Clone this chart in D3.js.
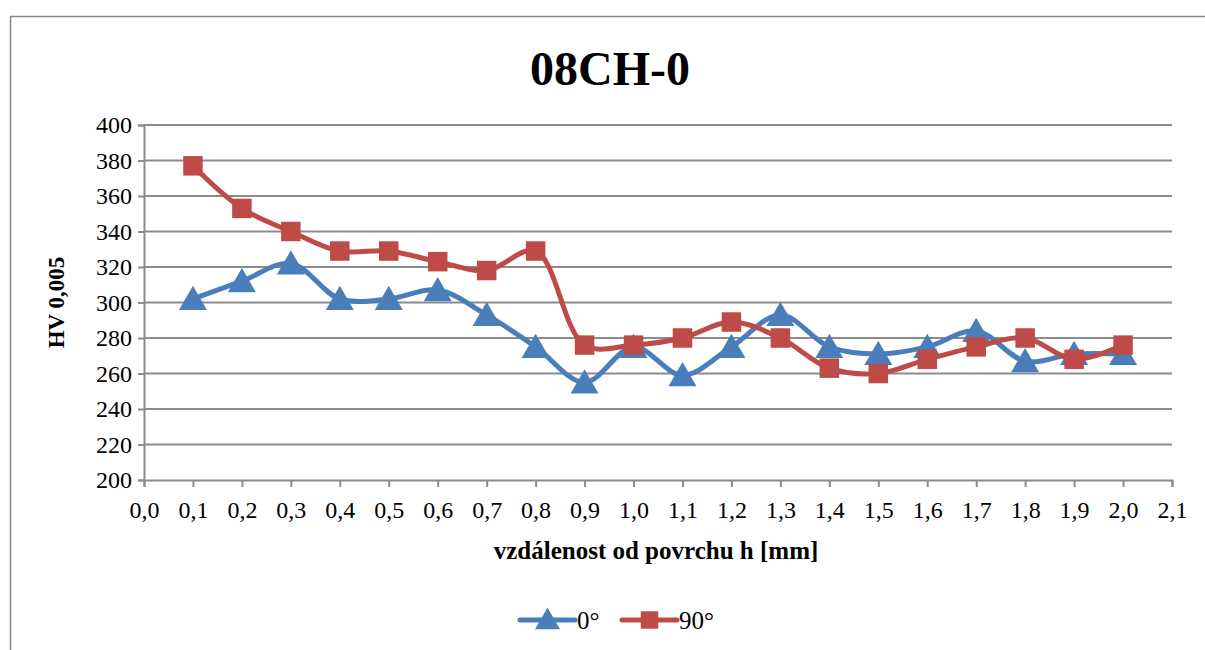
<!DOCTYPE html>
<html>
<head>
<meta charset="utf-8">
<script src="https://d3js.org/d3.v7.min.js"></script>
<style>
  body { margin: 0; background: #fff; }
  svg, svg text { font-family: "Liberation Serif", "Times New Roman", Tinos, "DejaVu Serif", serif !important; }
</style>
</head>
<body>
<div id="chart"></div>
<script>
// data
var depths = [0.1, 0.2, 0.3, 0.4, 0.5, 0.6, 0.7, 0.8, 0.9, 1.0, 1.1, 1.2, 1.3, 1.4, 1.5, 1.6, 1.7, 1.8, 1.9, 2.0];
var hv0  = [302, 312, 322, 302, 302, 307, 293, 275, 255, 275, 259, 275, 293, 275, 271, 275, 284, 267, 271, 271];
var hv90 = [377, 353, 340, 329, 329, 323, 318, 329, 276, 276, 280, 289, 280, 263, 260, 268, 275, 280, 268, 276];
var xTicks = d3.range(0, 22).map(function(i) { return i / 10; });
var yTicks = d3.range(200, 401, 20);

var W = 1205, H = 650;
var margin = {top: 125, left: 144, right: 33, bottom: 170};
var width = W - margin.left - margin.right,
    height = H - margin.top - margin.bottom;
var serif = "'Liberation Serif', 'Times New Roman', Tinos, 'DejaVu Serif', serif";

var svg = d3.select("#chart").append("svg")
    .attr("width", W).attr("height", H)
    .attr("font-family", serif);

// outer frame
svg.append("rect")
    .attr("x", 10.5).attr("y", 16.5)
    .attr("width", 1200).attr("height", 640)
    .attr("fill", "none").attr("stroke", "#868686").attr("stroke-width", 1.5);

svg.append("text")
    .attr("x", 610).attr("y", 85)
    .attr("text-anchor", "middle")
    .style("font-size", "48px").style("font-weight", "bold")
    .text("08CH-0");

var g = svg.append("g").attr("transform", "translate(" + margin.left + "," + margin.top + ")");

var x = d3.scaleLinear().domain([0, 2.1]).range([0, width]);
var y = d3.scaleLinear().domain([200, 400]).range([height, 0]);

var fmt = function(d) { return d3.format(".1f")(d).replace(".", ","); };

// gridlines
g.selectAll(".grid").data(yTicks.slice(1)).enter().append("line")
    .attr("x1", 0).attr("x2", width)
    .attr("y1", function(d) { return y(d); }).attr("y2", function(d) { return y(d); })
    .attr("stroke", "#8c8c8c").attr("stroke-width", 2);

// axes
var yAxis = g.append("g").call(d3.axisLeft(y).tickValues(yTicks).tickSize(6).tickPadding(6));
var xAxis = g.append("g").attr("transform", "translate(0," + height + ")")
    .call(d3.axisBottom(x).tickValues(xTicks).tickFormat(fmt).tickSize(7).tickPadding(14));
[xAxis, yAxis].forEach(function(a) {
  a.attr("font-family", serif);
  a.select(".domain").attr("stroke", "#8c8c8c").attr("stroke-width", 2);
  a.selectAll(".tick line").attr("stroke", "#8c8c8c").attr("stroke-width", 2);
  a.selectAll("text").style("font-size", "24px").attr("fill", "#000");
});

svg.append("text")
    .attr("transform", "translate(64," + (margin.top + height / 2) + ") rotate(-90)")
    .attr("text-anchor", "middle")
    .style("font-size", "23px").style("font-weight", "bold")
    .text("HV 0,005");

svg.append("text")
    .attr("x", margin.left + width / 2 - 2).attr("y", 559)
    .attr("text-anchor", "middle")
    .style("font-size", "25px").style("font-weight", "bold")
    .text("vzdálenost od povrchu h [mm]");

var series = [
  {name: "0°", values: hv0, color: "#4A7EBB", shape: d3.symbolTriangle, size: 340},
  {name: "90°", values: hv90, color: "#BE4B48", shape: d3.symbolSquare, size: 380}
];

var line = d3.line()
    .x(function(d, i) { return x(depths[i]); })
    .y(function(d) { return y(d); })
    .curve(d3.curveCatmullRom.alpha(0.5));

series.forEach(function(s) {
  g.append("path")
      .datum(s.values)
      .attr("d", line)
      .attr("fill", "none").attr("stroke", s.color).attr("stroke-width", 5);
  g.selectAll(null).data(s.values).enter().append("path")
      .attr("transform", function(d, i) { return "translate(" + x(depths[i]) + "," + (y(d) + (s.shape === d3.symbolTriangle ? 3 : 0)) + ")"; })
      .attr("d", d3.symbol().type(s.shape).size(s.size))
      .attr("fill", s.color);
});

// legend
var legend = svg.append("g").attr("transform", "translate(520,620)");
series.forEach(function(s, i) {
  var lg = legend.append("g").attr("transform", "translate(" + (i * 102) + ",0)");
  lg.append("line").attr("x1", 0).attr("x2", 55).attr("y1", 0).attr("y2", 0)
      .attr("stroke", s.color).attr("stroke-width", 5).attr("stroke-linecap", "round");
  lg.append("path").attr("transform", "translate(27.5," + (s.shape === d3.symbolTriangle ? 2 : 0) + ")")
      .attr("d", d3.symbol().type(s.shape).size(s.size * 0.8)).attr("fill", s.color);
  lg.append("text").attr("x", 57).attr("y", 9).style("font-size", "25px").text(s.name);
});
</script>
</body>
</html>
